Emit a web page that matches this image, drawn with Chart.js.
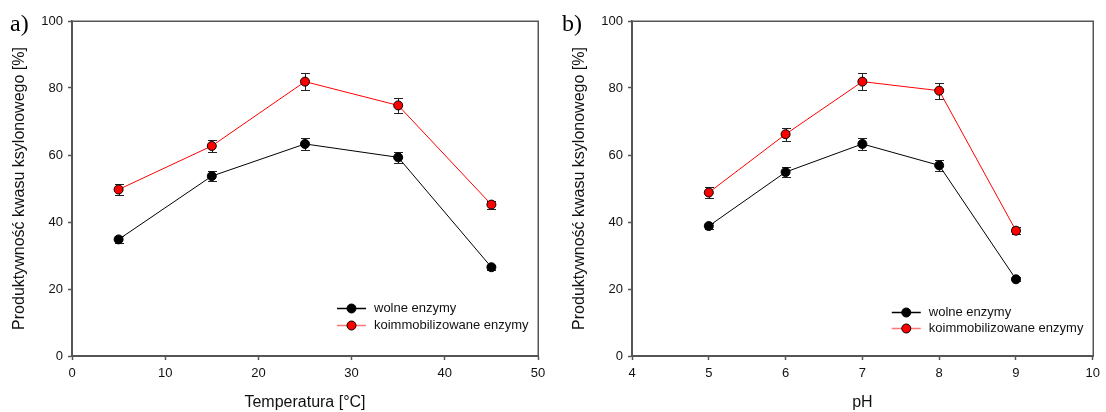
<!DOCTYPE html>
<html>
<head>
<meta charset="utf-8">
<script src="https://cdn.jsdelivr.net/npm/chart.js@4.4.1/dist/chart.umd.min.js"></script>
<style>
  html, body { margin: 0; padding: 0; background: #fff; }
  #wrap { position: relative; width: 1106px; height: 412px; overflow: hidden; }
  .pane { position: absolute; top: 0; width: 553px; height: 412px; }
</style>
</head>
<body>
<div id="wrap">
  <div class="pane" style="left:0"><canvas id="chartA" width="553" height="412"></canvas></div>
  <div class="pane" style="left:553px"><canvas id="chartB" width="553" height="412"></canvas></div>
</div>
<script>
// ---- data ----
const seriesNames = ['wolne enzymy', 'koimmobilizowane enzymy'];

const tempX = [5, 15, 25, 35, 45];
const tempFree = [34.8, 53.7, 63.3, 59.3, 26.5];
const tempFreeErr = [1.0, 1.4, 1.9, 1.6, 0.7];
const tempCoimm = [49.7, 62.7, 81.9, 74.8, 45.2];
const tempCoimmErr = [1.6, 1.9, 2.5, 2.2, 1.2];

const phX = [5, 6, 7, 8, 9];
const phFree = [38.8, 54.9, 63.3, 56.9, 22.9];
const phFreeErr = [1.0, 1.6, 1.9, 1.7, 0.6];
const phCoimm = [48.8, 66.2, 81.9, 79.2, 37.4];
const phCoimmErr = [1.5, 2.0, 2.5, 2.4, 1.0];

const yTitle = 'Produktywność kwasu ksylonowego [%]';
const tempTitle = 'Temperatura [°C]';
const phTitle = 'pH';
// -------------

const FONT = "'Liberation Sans', Arial, sans-serif";
const AXIS_COLOR = '#555';
const TEXT_COLOR = '#111';

const panelDecor = {
  id: 'panelDecor',
  beforeDatasetsDraw(chart, args, opts) {
    const ctx = chart.ctx;
    const a = chart.chartArea;
    ctx.save();
    // frame
    ctx.strokeStyle = AXIS_COLOR;
    ctx.lineWidth = 1.5;
    ctx.strokeRect(Math.round(a.left) + 0.25, Math.round(a.top) + 0.25,
                   Math.round(a.right) - Math.round(a.left), Math.round(a.bottom) - Math.round(a.top));
    // error bars
    const xs = chart.scales.x, ys = chart.scales.y;
    ctx.strokeStyle = '#222';
    ctx.lineWidth = 1;
    chart.data.datasets.forEach(ds => {
      ds.data.forEach((p, i) => {
        const e = ds.errors[i];
        const px = Math.round(xs.getPixelForValue(p.x)) + 0.5;
        const yt = Math.round(ys.getPixelForValue(p.y + e)) + 0.5;
        const yb = Math.round(ys.getPixelForValue(p.y - e)) + 0.5;
        ctx.beginPath();
        ctx.moveTo(px, yt); ctx.lineTo(px, yb);
        ctx.moveTo(px - 4.5, yt); ctx.lineTo(px + 4.5, yt);
        ctx.moveTo(px - 4.5, yb); ctx.lineTo(px + 4.5, yb);
        ctx.stroke();
      });
    });
    ctx.restore();
  },
  afterDraw(chart, args, opts) {
    const ctx = chart.ctx;
    const a = chart.chartArea;
    ctx.save();
    // panel letter
    ctx.fillStyle = '#000';
    ctx.font = "24px 'Liberation Serif', 'Times New Roman', serif";
    ctx.textBaseline = 'alphabetic';
    ctx.textAlign = 'left';
    ctx.fillText(opts.letter, opts.letterX, 31);
    // legend
    const lx = a.right - 201;
    chart.data.datasets.forEach((ds, k) => {
      const y = Math.round(a.bottom - opts.legendRows[k]) + 0.5;
      ctx.strokeStyle = ds.legendLine;
      ctx.lineWidth = 1.5;
      ctx.beginPath();
      ctx.moveTo(lx, y); ctx.lineTo(lx + 29, y);
      ctx.stroke();
      ctx.beginPath();
      ctx.arc(lx + 14.5, y, 4.5, 0, Math.PI * 2);
      ctx.fillStyle = ds.pointBackgroundColor;
      ctx.fill();
      ctx.lineWidth = 1;
      ctx.strokeStyle = '#000';
      ctx.stroke();
      ctx.fillStyle = TEXT_COLOR;
      ctx.font = '13px ' + FONT;
      ctx.textBaseline = 'middle';
      ctx.fillText(ds.label, lx + 37, y);
    });
    ctx.restore();
  }
};

function makeDataset(label, xs, ys, errs, color, fill, legendLine) {
  return {
    label: label,
    data: xs.map((x, i) => ({ x: x, y: ys[i] })),
    errors: errs,
    borderColor: color,
    borderWidth: 1,
    pointRadius: 4.5,
    pointHoverRadius: 4.5,
    pointBackgroundColor: fill,
    pointBorderColor: '#000',
    pointBorderWidth: 1,
    tension: 0,
    fill: false,
    legendLine: legendLine
  };
}

function makeChart(id, xs, free, freeErr, coimm, coimmErr, xMin, xMax, xStep, xTitle, padLeft, padRight, decor) {
  return new Chart(document.getElementById(id), {
    type: 'line',
    data: {
      datasets: [
        makeDataset(seriesNames[0], xs, free, freeErr, '#000', '#000', '#000'),
        makeDataset(seriesNames[1], xs, coimm, coimmErr, '#ff0000', '#ff0000', 'rgba(255,60,60,0.7)')
      ]
    },
    options: {
      responsive: false,
      animation: false,
      events: [],
      layout: { padding: { left: padLeft, right: padRight, top: 21, bottom: 0 } },
      plugins: {
        legend: { display: false },
        tooltip: { enabled: false },
        panelDecor: decor
      },
      scales: {
        x: {
          type: 'linear',
          min: xMin, max: xMax,
          afterFit(s) { s.height = 56; },
          ticks: { stepSize: xStep, color: TEXT_COLOR, font: { family: FONT, size: 13 }, padding: 6, maxRotation: 0 },
          grid: { drawOnChartArea: false, drawTicks: true, tickLength: 4, tickColor: AXIS_COLOR, tickWidth: 1.5 },
          border: { display: true, color: AXIS_COLOR, width: 1.5 },
          title: { display: true, text: xTitle, color: TEXT_COLOR, font: { family: FONT, size: 16 }, padding: { top: 0, bottom: 0 } }
        },
        y: {
          type: 'linear',
          min: 0, max: 100,
          afterFit(s) { s.width = 68; },
          ticks: { stepSize: 20, color: TEXT_COLOR, font: { family: FONT, size: 13 }, padding: 5 },
          grid: { drawOnChartArea: false, drawTicks: true, tickLength: 4, tickColor: AXIS_COLOR, tickWidth: 1.5 },
          border: { display: true, color: AXIS_COLOR, width: 1.5 },
          title: { display: true, text: yTitle, color: TEXT_COLOR, font: { family: FONT, size: 16 }, padding: { top: 6.4, bottom: 0 } }
        }
      }
    },
    plugins: [panelDecor]
  });
}

makeChart('chartA', tempX, tempFree, tempFreeErr, tempCoimm, tempCoimmErr, 0, 50, 10, tempTitle, 4, 15,
  { letter: 'a)', letterX: 10, legendRows: [48, 31.5] });
makeChart('chartB', phX, phFree, phFreeErr, phCoimm, phCoimmErr, 4, 10, 1, phTitle, 11, 8,
  { letter: 'b)', letterX: 9, legendRows: [44, 28] });
</script>
</body>
</html>
